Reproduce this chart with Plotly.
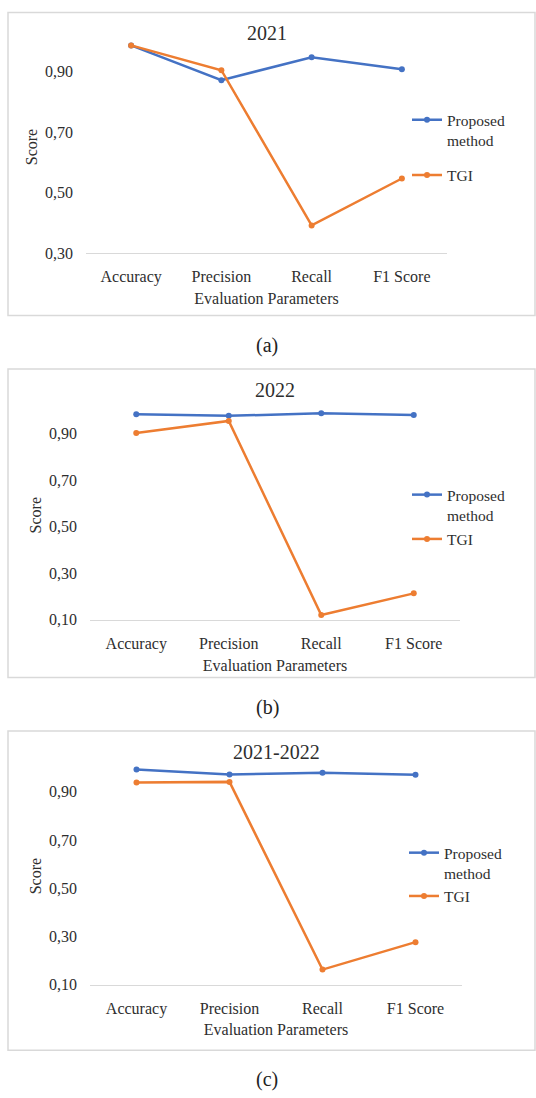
import plotly.graph_objects as go

W, H = 536, 1098

categories = ["Accuracy", "Precision", "Recall", "F1 Score"]

# Scores per evaluation period
proposed_2021 = [0.986, 0.871, 0.947, 0.907]
tgi_2021 = [0.986, 0.904, 0.391, 0.546]

proposed_2022 = [0.984, 0.977, 0.988, 0.981]
tgi_2022 = [0.903, 0.955, 0.121, 0.214]

proposed_all = [0.992, 0.972, 0.979, 0.971]
tgi_all = [0.938, 0.941, 0.162, 0.276]

panel_titles = ["2021", "2022", "2021-2022"]
captions = ["(a)", "(b)", "(c)"]

BLUE = "#4472C4"
ORANGE = "#ED7D31"
TEXT = "#2e2e2e"
FRAME = "#d9d9d9"
FONT = "Liberation Serif, Times New Roman, serif"


def fx(px):
    return px / W


def fy(px):
    return 1 - px / H


# Panel geometry in pixels
panels = [
    dict(x=(86, 447), y=(41.5, 255), yr=[0.3, 1.0], tick0=0.3,
         box=(8, 12.7, 535, 318), title_y=33, cap_y=348, leg=(407, 104), gap=12,
         data=(proposed_2021, tgi_2021)),
    dict(x=(90, 460), y=(413.9, 625), yr=[0.1, 1.0], tick0=0.1,
         box=(8, 372, 535, 683), title_y=393, cap_y=713, leg=(407, 482), gap=1,
         data=(proposed_2022, tgi_2022)),
    dict(x=(90, 462), y=(774, 992.7), yr=[0.1, 1.0], tick0=0.1,
         box=(8, 737, 535, 1059), title_y=758, cap_y=1088, leg=(404, 843), gap=0,
         data=(proposed_all, tgi_all)),
]

fig = go.Figure()
shapes, annotations = [], []

for i, p in enumerate(panels):
    n = i + 1
    xa = "x" if n == 1 else f"x{n}"
    ya = "y" if n == 1 else f"y{n}"
    leg = "legend" if n == 1 else f"legend{n}"
    prop, tgi = p["data"]

    fig.add_trace(go.Scatter(
        x=categories, y=prop, name="Proposed<br>method", mode="lines+markers",
        line=dict(color=BLUE, width=2.5), marker=dict(color=BLUE, size=6),
        xaxis=xa, yaxis=ya, legend=leg, legendgroup=f"p{n}", cliponaxis=False))
    fig.add_trace(go.Scatter(
        x=categories, y=tgi, name="TGI", mode="lines+markers",
        line=dict(color=ORANGE, width=2.5), marker=dict(color=ORANGE, size=6),
        xaxis=xa, yaxis=ya, legend=leg, legendgroup=f"t{n}", cliponaxis=False))

    xkey = "xaxis" if n == 1 else f"xaxis{n}"
    ykey = "yaxis" if n == 1 else f"yaxis{n}"
    fig.layout[xkey] = dict(
        domain=[fx(p["x"][0]), fx(p["x"][1])], anchor=ya,
        type="category", range=[-0.5, 3.5],
        showgrid=False, zeroline=False, showline=True, linecolor=FRAME, linewidth=1,
        ticks="", ticklabelstandoff=9,
        tickfont=dict(family=FONT, size=16, color=TEXT),
        title=dict(text="Evaluation Parameters", standoff=7,
                   font=dict(family=FONT, size=16, color=TEXT)),
    )
    fig.layout[ykey] = dict(
        domain=[fy(p["y"][1]), fy(p["y"][0])], anchor=xa,
        range=p["yr"], tick0=p["tick0"], dtick=0.2, tickformat=".2f",
        showgrid=False, zeroline=False, showline=False,
        ticks="", ticklabelstandoff=12,
        tickfont=dict(family=FONT, size=16, color=TEXT),
        title=dict(text="Score", standoff=3,
                   font=dict(family=FONT, size=16, color=TEXT)),
    )
    fig.layout[leg] = dict(
        x=fx(p["leg"][0]), y=fy(p["leg"][1]), xanchor="left", yanchor="top",
        bgcolor="rgba(0,0,0,0)", borderwidth=0, valign="top",
        tracegroupgap=p["gap"], itemclick=False, itemdoubleclick=False,
        font=dict(family=FONT, size=15.5, color=TEXT),
    )

    x0, y0, x1, y1 = p["box"]
    shapes.append(dict(type="rect", xref="paper", yref="paper",
                       x0=fx(x0), x1=fx(x1), y0=fy(y1), y1=fy(y0),
                       line=dict(color=FRAME, width=1.5), fillcolor="rgba(0,0,0,0)",
                       layer="below"))
    annotations.append(dict(text=panel_titles[i], xref="paper", yref="paper",
                            x=fx((p["x"][0] + p["x"][1]) / 2), y=fy(p["title_y"]),
                            xanchor="center", yanchor="middle", showarrow=False,
                            font=dict(family=FONT, size=20, color=TEXT)))
    annotations.append(dict(text=captions[i], xref="paper", yref="paper",
                            x=fx(267), y=fy(p["cap_y"]),
                            xanchor="center", yanchor="middle", showarrow=False,
                            font=dict(family=FONT, size=20, color="#222222")))

fig.update_layout(
    width=W, height=H, margin=dict(l=0, r=0, t=0, b=0),
    paper_bgcolor="white", plot_bgcolor="white",
    separators=",.", shapes=shapes, annotations=annotations,
    font=dict(family=FONT, color=TEXT),
)

fig.write_html("out.html")
